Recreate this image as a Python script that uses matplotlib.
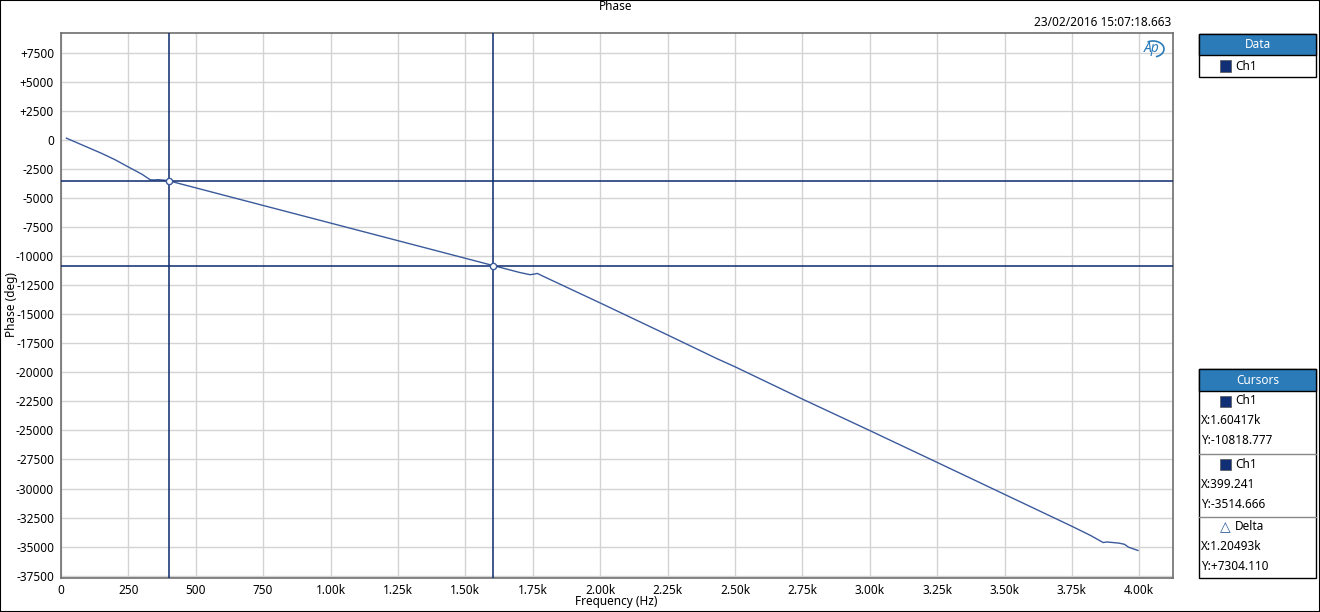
import matplotlib
matplotlib.use("Agg")
import matplotlib.pyplot as plt
from matplotlib.patches import Rectangle, Arc
from matplotlib.ticker import FixedLocator, FixedFormatter

plt.rcParams['font.family'] = ['Noto Sans', 'DejaVu Sans']

# ---- data ----
freq_hz = [20, 100, 150, 200, 250, 300, 330, 345, 360, 380, 399.241,
           600, 800, 1000, 1200, 1400, 1604.17, 1700, 1740, 1755, 1767,
           1790, 1850, 2000, 2247, 2432, 2500, 2750, 3000, 3250, 3539,
           3650, 3750, 3820, 3866, 3880, 3925, 3945, 3960, 3995]
phase_deg = [150, -650, -1150, -1700, -2330, -2950, -3420, -3450, -3420,
             -3460, -3514.666, -4733, -5945, -7157, -8369, -9581, -10818.777,
             -11400, -11600, -11550, -11490, -11750, -12400, -14030, -16750,
             -18810, -19520, -22300, -25010, -27750, -30930, -32150, -33250,
             -34050, -34650, -34600, -34700, -34800, -35050, -35330]

cursor1 = (1604.17, -10818.777)
cursor2 = (399.241, -3514.666)

x_ticks = [0, 250, 500, 750, 1000, 1250, 1500, 1750, 2000, 2250, 2500,
           2750, 3000, 3250, 3500, 3750, 4000]
x_tick_labels = ["0", "250", "500", "750", "1.00k", "1.25k", "1.50k", "1.75k",
                 "2.00k", "2.25k", "2.50k", "2.75k", "3.00k", "3.25k", "3.50k",
                 "3.75k", "4.00k"]
y_ticks = [7500, 5000, 2500, 0, -2500, -5000, -7500, -10000, -12500, -15000,
           -17500, -20000, -22500, -25000, -27500, -30000, -32500, -35000, -37500]
y_tick_labels = ["+7500", "+5000", "+2500", "0", "-2500", "-5000", "-7500",
                 "-10000", "-12500", "-15000", "-17500", "-20000", "-22500",
                 "-25000", "-27500", "-30000", "-32500", "-35000", "-37500"]

title = "Phase"
timestamp = "23/02/2016 15:07:18.663"
x_label = "Frequency (Hz)"
y_label = "Phase (deg)"
cursor_rows = [["X:1.60417k", "Y:-10818.777"], ["X:399.241", "Y:-3514.666"],
               ["X:1.20493k", "Y:+7304.110"]]

# ---- styling ----
W, H = 1320, 612
CURVE = "#3b5a9c"
CURSOR = "#0c2a6e"
NAVY = "#102f74"
HEADER = "#2b7bb9"
GRID = "#d3d3d3"
SPINE = "#6e6e6e"
FS = 8.5

fig = plt.figure(figsize=(W / 100, H / 100), dpi=100)

def fx(px):
    return px / W

def fy(py):
    return 1 - py / H

L, R, T, B = 61, 1173, 33, 578
ax = fig.add_axes([fx(L), fy(B), (R - L) / W, (B - T) / H])
ax.set_xlim(0, 4125)
ax.set_ylim(-37700, 9200)

ax.xaxis.set_major_locator(FixedLocator(x_ticks))
ax.xaxis.set_major_formatter(FixedFormatter(x_tick_labels))
ax.yaxis.set_major_locator(FixedLocator(y_ticks))
ax.yaxis.set_major_formatter(FixedFormatter(y_tick_labels))
ax.tick_params(axis='both', length=0, labelsize=FS, colors='black')
ax.tick_params(axis='x', pad=4)
ax.tick_params(axis='y', pad=5)
ax.grid(True, color=GRID, linewidth=1.0)
ax.set_axisbelow(True)
for s in ax.spines.values():
    s.set_color(SPINE)
    s.set_linewidth(1.2)

ax.plot(freq_hz, phase_deg, color=CURVE, linewidth=1.0, zorder=3)

# cursors
for (cx, cy) in (cursor1, cursor2):
    ax.axvline(cx, color=CURSOR, linewidth=1.1, zorder=4)
    ax.axhline(cy, color=CURSOR, linewidth=1.1, zorder=4)
    ax.plot([cx], [cy], marker='o', markersize=4.5, markerfacecolor='white',
            markeredgecolor=CURVE, markeredgewidth=1.0, zorder=5)

# axis labels as figure text
fig.text(fx(616), fy(602), x_label, ha='center', va='center', fontsize=FS)
fig.text(fx(12), fy(305), y_label, ha='center', va='center', fontsize=FS,
         rotation=90)

# title and timestamp
fig.text(fx(616), fy(7), title, ha='center', va='center', fontsize=FS)
fig.text(fx(1171), fy(22), timestamp, ha='right', va='center', fontsize=FS)

# AP logo
fig.text(fx(1152), fy(49), "Ap", ha='center', va='center', fontsize=10,
         fontweight='bold', style='italic', color=HEADER)
fig.patches.append(Arc((fx(1153), fy(49)), 22 / W, 16 / H, theta1=-80, theta2=110,
                       transform=fig.transFigure, color=HEADER, linewidth=1.2))

# outer border
fig.patches.append(Rectangle((0, 0), 1, 1, transform=fig.transFigure,
                             fill=False, edgecolor='black', linewidth=1.5))

def panel(x0, y0, x1, y1, header_h, header_text):
    fig.patches.append(Rectangle((fx(x0), fy(y1)), (x1 - x0) / W, (y1 - y0) / H,
                                 transform=fig.transFigure, facecolor='white',
                                 edgecolor='black', linewidth=1.0))
    fig.patches.append(Rectangle((fx(x0), fy(y0 + header_h)), (x1 - x0) / W, header_h / H,
                                 transform=fig.transFigure, facecolor=HEADER,
                                 edgecolor='black', linewidth=1.0))
    fig.text(fx((x0 + x1) / 2), fy(y0 + header_h / 2), header_text, ha='center',
             va='center', fontsize=FS, fontweight='bold', color='white')

def swatch(x, yc):
    fig.patches.append(Rectangle((fx(x), fy(yc + 5.5)), 11 / W, 11 / H,
                                 transform=fig.transFigure, facecolor=NAVY,
                                 edgecolor='#555555', linewidth=0.5))

# Data panel
panel(1199, 34, 1316, 77, 21, "Data")
swatch(1220, 66)
fig.text(fx(1235), fy(66), "Ch1", ha='left', va='center', fontsize=FS)

# Cursors panel
panel(1199, 369, 1316, 578, 22, "Cursors")
for sep in (454, 517):
    fig.lines.append(plt.Line2D([fx(1199), fx(1316)], [fy(sep), fy(sep)],
                                transform=fig.transFigure, color='#888888', linewidth=1.0))
row_tops = [391, 454, 517]
for i, top in enumerate(row_tops):
    if i < 2:
        swatch(1220, top + 10)
        fig.text(fx(1235), fy(top + 10), "Ch1", ha='left', va='center', fontsize=FS)
    else:
        fig.text(fx(1220), fy(top + 10), "△", ha='left', va='center', fontsize=10,
                 color='#2a5a9a', family=['DejaVu Sans'], fontweight='bold')
        fig.text(fx(1235), fy(top + 10), "Delta", ha='left', va='center', fontsize=FS)
    fig.text(fx(1201), fy(top + 30), cursor_rows[i][0], ha='left', va='center', fontsize=FS)
    fig.text(fx(1201), fy(top + 50), cursor_rows[i][1], ha='left', va='center', fontsize=FS)

fig.savefig("out.png", dpi=100)
